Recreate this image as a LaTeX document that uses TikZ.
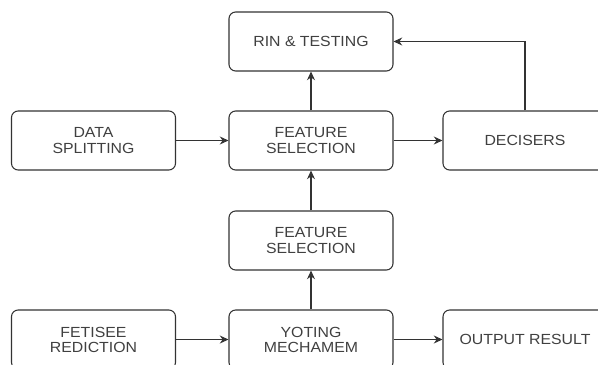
\documentclass[tikz,border=0pt]{standalone}
\usepackage{fontspec}
\setmainfont[FakeStretch=1.08]{Liberation Sans}
\usetikzlibrary{arrows.meta}
\definecolor{boxline}{HTML}{333333}
\definecolor{boxtext}{HTML}{404040}
\begin{document}
\begin{tikzpicture}[x=0.75pt,y=-0.75pt,>={Stealth[length=6.5pt,width=6pt]},
    font=\fontsize{11}{11.3}\selectfont]
    \tikzset{
        block/.style={draw=boxline,line width=0.8pt,rounded corners=5pt,fill=white,
            text=boxtext,align=center,minimum width=123pt,minimum height=44.25pt,inner sep=2pt},
        flow/.style={->,draw=boxline,line width=0.8pt}
    }
    \useasboundingbox (0,0) rectangle (598,364);
    \clip (0,0) rectangle (598,364);

    \node[block] (rin) at (311,41.5) {RIN \& TESTING};

    \node[block] (split) at (93.5,140.5) {DATA\\SPLITTING};
    \node[block] (select) at (311,140.5) {FEATURE\\SELECTION};
    \node[block] (decide) at (525,140.5) {DECISERS};

    \node[block] (select2) at (311,240.5) {FEATURE\\SELECTION};

    \node[block] (reduce) at (93.5,339.5) {FETISEE\\REDICTION};
    \node[block] (vote) at (311,339.5) {YOTING\\MECHAMEM};
    \node[block] (output) at (525,339.5) {OUTPUT RESULT};

    \draw[flow] (split) -- (select);
    \draw[flow] (select) -- (decide);
    \draw[flow] (select) -- (rin);
    \draw[flow] (decide.north) |- (rin.east);
    \draw[flow] (select2) -- (select);
    \draw[flow] (vote) -- (select2);
    \draw[flow] (reduce) -- (vote);
    \draw[flow] (vote) -- (output);
\end{tikzpicture}
\end{document}
